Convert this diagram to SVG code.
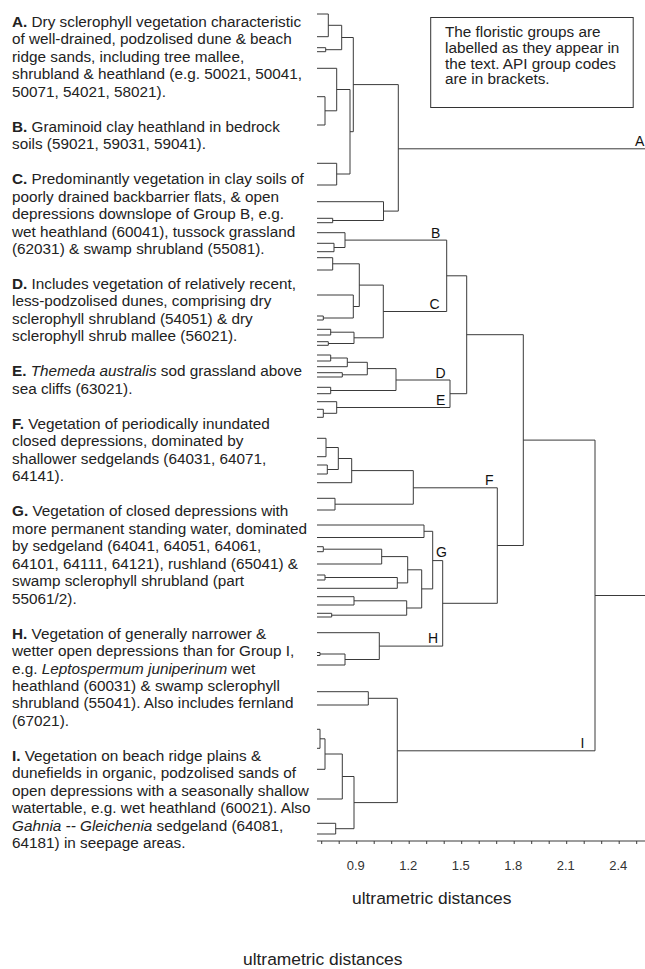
<svg xmlns="http://www.w3.org/2000/svg" width="645" height="969" viewBox="0 0 645 969">
<style>
.t{font-family:"Liberation Sans",Arial,sans-serif;font-size:15.3px;fill:#222}
.b{font-weight:bold}
.i{font-style:italic}
.lab{font-family:"Liberation Sans",Arial,sans-serif;font-size:14px;fill:#111}
.ax{font-family:"Liberation Sans",Arial,sans-serif;font-size:13px;fill:#333;text-anchor:middle}
.ttl{font-family:"Liberation Sans",Arial,sans-serif;font-size:17.4px;fill:#222}
.ln{fill:none;stroke:#3a3a3a;stroke-width:1}
</style>
<rect width="645" height="969" fill="#fff"/>

<g id="desc-A"><text class="t" x="12"><tspan x="12" y="26.7"><tspan class="b">A.</tspan> Dry sclerophyll vegetation characteristic</tspan><tspan x="12" y="44.2">of well-drained, podzolised dune &amp; beach</tspan><tspan x="12" y="61.7">ridge sands, including tree mallee,</tspan><tspan x="12" y="79.1">shrubland &amp; heathland (e.g. 50021, 50041,</tspan><tspan x="12" y="96.6">50071, 54021, 58021).</tspan></text></g>
<g id="desc-B"><text class="t"><tspan x="12" y="131.6"><tspan class="b">B.</tspan> Graminoid clay heathland in bedrock</tspan><tspan x="12" y="149.1">soils (59021, 59031, 59041).</tspan></text></g>
<g id="desc-C"><text class="t"><tspan x="12" y="184"><tspan class="b">C.</tspan> Predominantly vegetation in clay soils of</tspan><tspan x="12" y="201.5">poorly drained backbarrier flats, &amp; open</tspan><tspan x="12" y="219">depressions downslope of Group B, e.g.</tspan><tspan x="12" y="236.5">wet heathland (60041), tussock grassland</tspan><tspan x="12" y="253.9">(62031) &amp; swamp shrubland (55081).</tspan></text></g>
<g id="desc-D"><text class="t"><tspan x="12" y="288.9"><tspan class="b">D.</tspan> Includes vegetation of relatively recent,</tspan><tspan x="12" y="306.4">less-podzolised dunes, comprising dry</tspan><tspan x="12" y="323.9">sclerophyll shrubland (54051) &amp; dry</tspan><tspan x="12" y="341.3">sclerophyll shrub mallee (56021).</tspan></text></g>
<g id="desc-E"><text class="t"><tspan x="12" y="376.3"><tspan class="b">E.</tspan> <tspan class="i">Themeda australis</tspan> sod grassland above</tspan><tspan x="12" y="393.8">sea cliffs (63021).</tspan></text></g>
<g id="desc-F"><text class="t"><tspan x="12" y="428.7"><tspan class="b">F.</tspan> Vegetation of periodically inundated</tspan><tspan x="12" y="446.2">closed depressions, dominated by</tspan><tspan x="12" y="463.7">shallower sedgelands (64031, 64071,</tspan><tspan x="12" y="481.2">64141).</tspan></text></g>
<g id="desc-G"><text class="t"><tspan x="12" y="516.1"><tspan class="b">G.</tspan> Vegetation of closed depressions with</tspan><tspan x="12" y="533.6">more permanent standing water, dominated</tspan><tspan x="12" y="551.1">by sedgeland (64041, 64051, 64061,</tspan><tspan x="12" y="568.6">64101, 64111, 64121), rushland (65041) &amp;</tspan><tspan x="12" y="586.1">swamp sclerophyll shrubland (part</tspan><tspan x="12" y="603.5">55061/2).</tspan></text></g>
<g id="desc-H"><text class="t"><tspan x="12" y="638.5"><tspan class="b">H.</tspan> Vegetation of generally narrower &amp;</tspan><tspan x="12" y="656">wetter open depressions than for Group I,</tspan><tspan x="12" y="673.5">e.g. <tspan class="i">Leptospermum juniperinum</tspan> wet</tspan><tspan x="12" y="690.9">heathland (60031) &amp; swamp sclerophyll</tspan><tspan x="12" y="708.4">shrubland (55041). Also includes fernland</tspan><tspan x="12" y="725.9">(67021).</tspan></text></g>
<g id="desc-I"><text class="t"><tspan x="12" y="760.9"><tspan class="b">I.</tspan> Vegetation on beach ridge plains &amp;</tspan><tspan x="12" y="778.3">dunefields in organic, podzolised sands of</tspan><tspan x="12" y="795.8">open depressions with a seasonally shallow</tspan><tspan x="12" y="813.3">watertable, e.g. wet heathland (60021). Also</tspan><tspan x="12" y="830.8"><tspan class="i">Gahnia -- Gleichenia</tspan> sedgeland (64081,</tspan><tspan x="12" y="848.3">64181) in seepage areas.</tspan></text></g>

<g id="legend">
<rect x="430.7" y="17.5" width="202.5" height="90" fill="#fff" stroke="#333" stroke-width="1"/>
<text class="t"><tspan x="445" y="37">The floristic groups are</tspan><tspan x="445" y="52.8">labelled as they appear in</tspan><tspan x="445" y="68.6">the text. API group codes</tspan><tspan x="445" y="84.4">are in brackets.</tspan></text>
</g>

<g id="connectors" class="ln">
<path id="cl-A" d="M317 14 H328.3 M317 36.7 H328.3 M328.3 14 V36.7 M328.3 25.3 H341.7 M317 47.7 H325.7 M317 51.7 H325.7 M325.7 47.7 V51.7 M325.7 49.7 H341.7 M341.7 25.3 V49.7 M341.7 37.5 H353.3 M317 68.3 H336.7 M317 96.7 H325 M317 125 H325 M325 96.7 V125 M325 110.8 H336.7 M336.7 68.3 V110.8 M336.7 89.5 H350 M317 163.3 H336.7 M317 185 H336.7 M336.7 163.3 V185 M336.7 174 H350 M350 89.5 V174 M350 131.7 H353.3 M353.3 37.5 V131.7 M353.3 84.6 H398.3 M317 201.7 H383.5 M317 218.3 H332.7 M317 222.7 H332.7 M332.7 218.3 V222.7 M332.7 220.5 H383.5 M383.5 201.7 V220.5 M383.5 211.1 H398.3 M398.3 84.6 V211.1 M398.3 148.8 H645"/>
<path id="cl-B" d="M317 232.7 H345 M317 243.3 H334 M317 251.7 H334 M334 243.3 V251.7 M334 247.5 H345 M345 232.7 V247.5 M345 240.1 H446.7"/>
<path id="cl-C" d="M317 257.7 H332.7 M317 270 H332.7 M332.7 257.7 V270 M332.7 263.8 H359.3 M317 295 H353.3 M317 316 H323.3 M317 320 H323.3 M323.3 316 V320 M323.3 318 H353.3 M353.3 295 V318 M353.3 306.5 H359.3 M359.3 263.8 V306.5 M359.3 285.1 H383.3 M317 329.3 H330.7 M317 335 H330.7 M330.7 329.3 V335 M330.7 332.2 H354 M317 341.7 H328.3 M317 345.3 H328.3 M328.3 341.7 V345.3 M328.3 343.5 H354 M354 332.2 V343.5 M354 337.8 H383.3 M383.3 285.1 V337.8 M383.3 311.5 H446.7 M446.7 240.1 V311.5 M446.7 275.8 H466.7"/>
<path id="cl-D" d="M317 355 H330.7 M317 361 H330.7 M330.7 355 V361 M330.7 358 H347.3 M317 366.7 H347.3 M347.3 358 V366.7 M347.3 362.3 H367.3 M317 372.7 H342.3 M317 377 H342.3 M342.3 372.7 V377 M342.3 374.8 H367.3 M367.3 362.3 V374.8 M367.3 368.6 H396 M317 387.3 H330.7 M317 393.7 H330.7 M330.7 387.3 V393.7 M330.7 390.5 H396 M396 368.6 V390.5 M396 380 H450"/>
<path id="cl-E" d="M317 401.7 H336.7 M317 409.3 H323.3 M317 417.3 H323.3 M323.3 409.3 V417.3 M323.3 413.3 H336.7 M336.7 401.7 V413.3 M336.7 407.5 H450 M450 380 V407.5 M450 393.7 H466.7 M466.7 275.8 V393.7 M466.7 334.7 H523.3"/>
<path id="cl-F" d="M317 438.3 H326 M317 456.7 H326 M326 438.3 V456.7 M326 447.5 H338.3 M317 465 H327.3 M317 474 H327.3 M327.3 465 V474 M327.3 469.5 H338.3 M338.3 447.5 V469.5 M338.3 458.5 H351.7 M317 482.7 H351.7 M351.7 458.5 V482.7 M351.7 470.6 H413.3 M317 498.3 H335 M317 510 H335 M335 498.3 V510 M335 504.2 H413.3 M413.3 470.6 V504.2 M413.3 487.8 H497.3"/>
<path id="cl-G" d="M317 525 H424 M317 537.5 H424 M424 525 V537.5 M424 531.3 H432.7 M317 546.7 H323.3 M317 551.7 H323.3 M323.3 546.7 V551.7 M323.3 549.2 H381.7 M317 564 H381.7 M381.7 549.2 V564 M381.7 556.6 H407.7 M317 575 H325 M317 580 H325 M325 575 V580 M325 577.5 H397.3 M317 588.3 H397.3 M397.3 577.5 V588.3 M397.3 582.9 H407.7 M407.7 556.6 V582.9 M407.7 569.8 H421.7 M317 596.7 H354 M317 605 H354 M354 596.7 V605 M354 600.8 H406.7 M317 613.3 H331.7 M317 617 H331.7 M331.7 613.3 V617 M331.7 615.2 H406.7 M406.7 600.8 V615.2 M406.7 608 H421.7 M421.7 569.8 V608 M421.7 588.9 H432.7 M432.7 531.3 V588.9 M432.7 560.6 H442.7"/>
<path id="cl-H" d="M317 632.7 H379.3 M317 652.5 H320 M317 655.5 H320 M320 652.5 V655.5 M320 654 H345 M317 665 H345 M345 654 V665 M345 659.5 H379.3 M379.3 632.7 V659.5 M379.3 646.1 H442.7 M442.7 560.6 V646.1 M442.7 603.3 H497.3 M497.3 487.8 V603.3 M497.3 545.5 H523.3 M523.3 334.7 V545.5 M523.3 440.1 H595"/>
<path id="cl-I" d="M317 691.7 H368.3 M317 705 H368.3 M368.3 691.7 V705 M368.3 698.3 H397.3 M317 729.3 H320 M317 748.3 H320 M320 729.3 V748.3 M320 738.8 H325 M317 769.3 H325 M325 738.8 V769.3 M325 754 H342.3 M317 799 H342.3 M342.3 754 V799 M342.3 776.5 H354 M317 823.3 H335.7 M317 834 H335.7 M335.7 823.3 V834 M335.7 828.7 H354 M354 776.5 V828.7 M354 802.6 H397.3 M397.3 698.3 V802.6 M397.3 750.8 H595 M595 440.1 V750.8 M595 595.5 H645"/>
</g>

<g id="group-labels">
<text class="lab" x="635" y="146">A</text>
<text class="lab" x="431" y="237.5">B</text>
<text class="lab" x="429.5" y="309">C</text>
<text class="lab" x="435.5" y="377.5">D</text>
<text class="lab" x="436" y="405">E</text>
<text class="lab" x="485" y="485">F</text>
<text class="lab" x="436" y="556.7">G</text>
<text class="lab" x="428" y="643">H</text>
<text class="lab" x="580.5" y="748">I</text>
</g>

<g id="axis">
<path class="ln" d="M317 841 H645"/>
<path class="ln" d="M321.7 841 v3 M339.2 841 v3 M356.7 841 v3 M374.2 841 v3 M391.7 841 v3 M409.2 841 v3 M426.7 841 v3 M444.2 841 v3 M461.7 841 v3 M479.2 841 v3 M496.7 841 v3 M514.2 841 v3 M531.7 841 v3 M549.2 841 v3 M566.7 841 v3 M584.2 841 v3 M601.7 841 v3 M619.2 841 v3 M636.7 841 v3"/>
<text class="ax" x="355.7" y="870">0.9</text>
<text class="ax" x="408.2" y="870">1.2</text>
<text class="ax" x="460.7" y="870">1.5</text>
<text class="ax" x="513.2" y="870">1.8</text>
<text class="ax" x="565.7" y="870">2.1</text>
<text class="ax" x="618.2" y="870">2.4</text>
<text class="ttl" x="352" y="903.5">ultrametric distances</text>
</g>
<g id="caption"><text class="ttl" x="243" y="965">ultrametric distances</text></g>
</svg>
